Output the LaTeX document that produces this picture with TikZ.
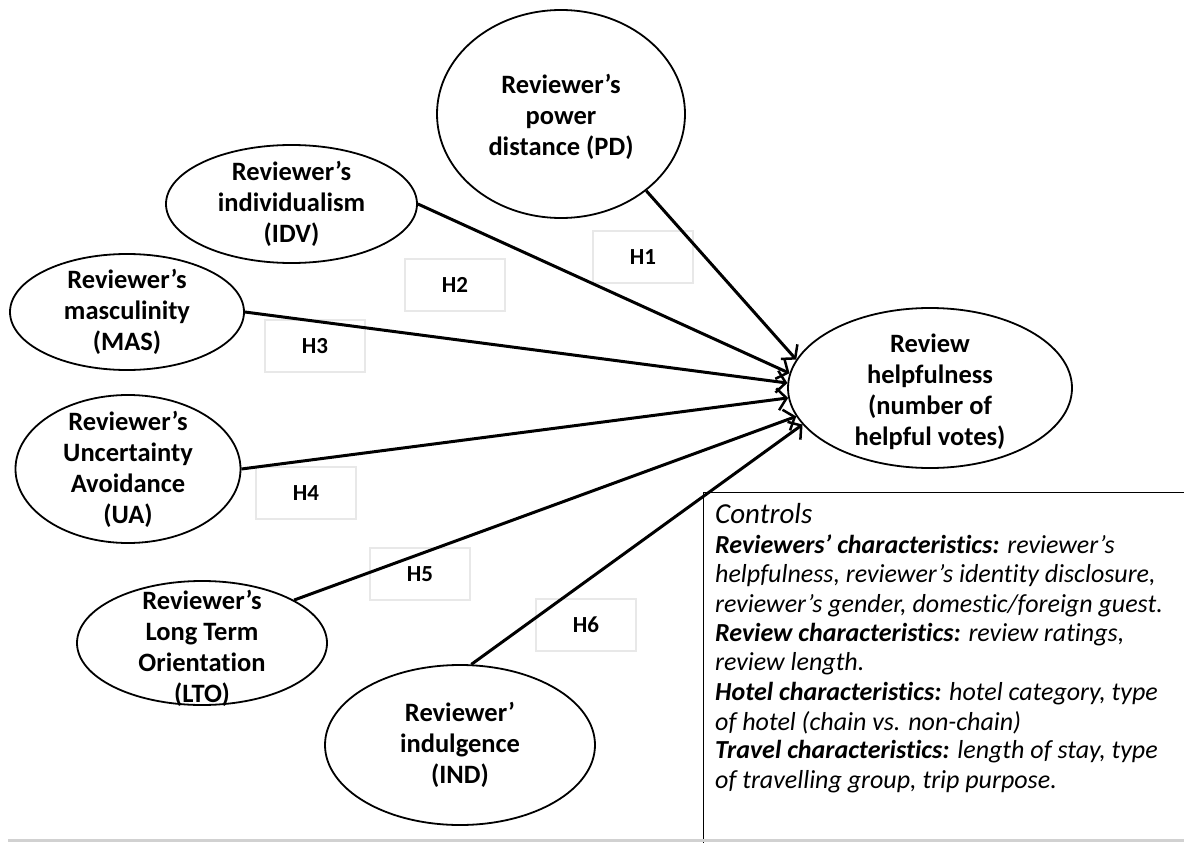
\documentclass[tikz,border=0pt]{standalone}
\usepackage{fontspec}
\setmainfont{Carlito}[Ligatures=NoCommon]
\usetikzlibrary{shapes.geometric,arrows.meta}
\begin{document}
\begin{tikzpicture}[x=1pt,y=-1pt,
  var/.style={ellipse, draw, line width=1.8pt, inner sep=0pt},
  vtext/.style={inner sep=0pt, align=center, font=\fontsize{26.5}{31}\selectfont\bfseries},
  hbox/.style={draw=black!9, line width=1.3pt, minimum width=100pt, minimum height=52pt, inner sep=0pt, font=\fontsize{23}{27}\selectfont\bfseries},
  link/.style={line width=3pt, -{Straight Barb[length=9pt,width=22pt,line width=2.5pt]}},
  ctext/.style={anchor=base west, inner sep=0pt, font=\fontsize{26}{29.5}\selectfont\itshape}
]
\useasboundingbox (0,0) rectangle (1184,843);

% hypothesis label boxes
\node[hbox] (H1) at (643,257) {H1};
\node[hbox] (H2) at (455,285) {H2};
\node[hbox] (H3) at (315,346) {H3};
\node[hbox] (H4) at (306,493) {H4};
\node[hbox] (H5) at (420,574) {H5};
\node[hbox] (H6) at (586,625) {H6};

% ellipses
\node[var, minimum width=248pt, minimum height=208pt] (PD)  at (561,114) {};
\node[var, minimum width=251pt, minimum height=118pt] (IDV) at (291.5,204) {};
\node[var, minimum width=234pt, minimum height=116pt] (MAS) at (127,312) {};
\node[var, minimum width=225pt, minimum height=148pt] (UA)  at (128,469) {};
\node[var, minimum width=250pt, minimum height=124pt] (LTO) at (202,643) {};
\node[var, minimum width=270pt, minimum height=160pt] (IND) at (460,745) {};
\node[var, minimum width=284pt, minimum height=160pt] (RH)  at (930,388) {};

% ellipse texts
\node[vtext] (PDt)  at (561,117) {Reviewer’s\\power\\distance (PD)};
\node[vtext] (IDVt) at (291.5,204) {Reviewer’s\\individualism\\(IDV)};
\node[vtext] (MASt) at (127,312) {Reviewer’s\\masculinity\\(MAS)};
\node[vtext] (UAt)  at (128,469) {Reviewer’s\\Uncertainty\\Avoidance\\(UA)};
\node[vtext] (LTOt) at (202,648) {Reviewer’s\\Long Term\\Orientation\\(LTO)};
\node[vtext] (INDt) at (460,745) {Reviewer’\\indulgence\\(IND)};
\node[vtext] (RHt)  at (930,392) {Review\\helpfulness\\(number of\\helpful votes)};

% connectors
\draw[link] (PD.-42.6) -- (RH.168.4);
\draw[link] (IDV.east) -- (RH.174.4);
\draw[link] (MAS.east) -- (RH.178);
\draw[link] (UA.east)  -- (RH.184);
\draw[link] (LTO.25.5) -- (RH.192);
\draw[link] (IND.82)   -- (RH.196.5);

% controls box
\node[draw, line width=1.3pt, anchor=north west, minimum width=500pt, minimum height=360pt, inner sep=0pt] (ctrl) at (703,492) {};
\node[ctext, font=\fontsize{29}{32}\selectfont\itshape] (c0) at (715,523) {Controls};
\node[ctext] (c1) at (715,553) {\textbf{Reviewers’ characteristics:} reviewer’s};
\node[ctext] (c2) at (715,582) {helpfulness, reviewer’s identity disclosure,};
\node[ctext] (c3) at (715,612) {reviewer’s gender, domestic/foreign guest.};
\node[ctext] (c4) at (715,641) {\textbf{Review characteristics:} review ratings,};
\node[ctext] (c5) at (715,670) {review length.};
\node[ctext] (c6) at (715,700) {\textbf{Hotel characteristics:} hotel category, type};
\node[ctext] (c7) at (715,730) {of hotel (chain vs. non-chain)};
\node[ctext] (c8) at (715,758) {\textbf{Travel characteristics:} length of stay, type};
\node[ctext] (c9) at (715,788) {of travelling group, trip purpose.};

% bottom rule
\coordinate (bl) at (8,840);
\coordinate (br) at (1184,840);
\draw[black!18, line width=3pt] (bl) -- (br);
\end{tikzpicture}
\end{document}
